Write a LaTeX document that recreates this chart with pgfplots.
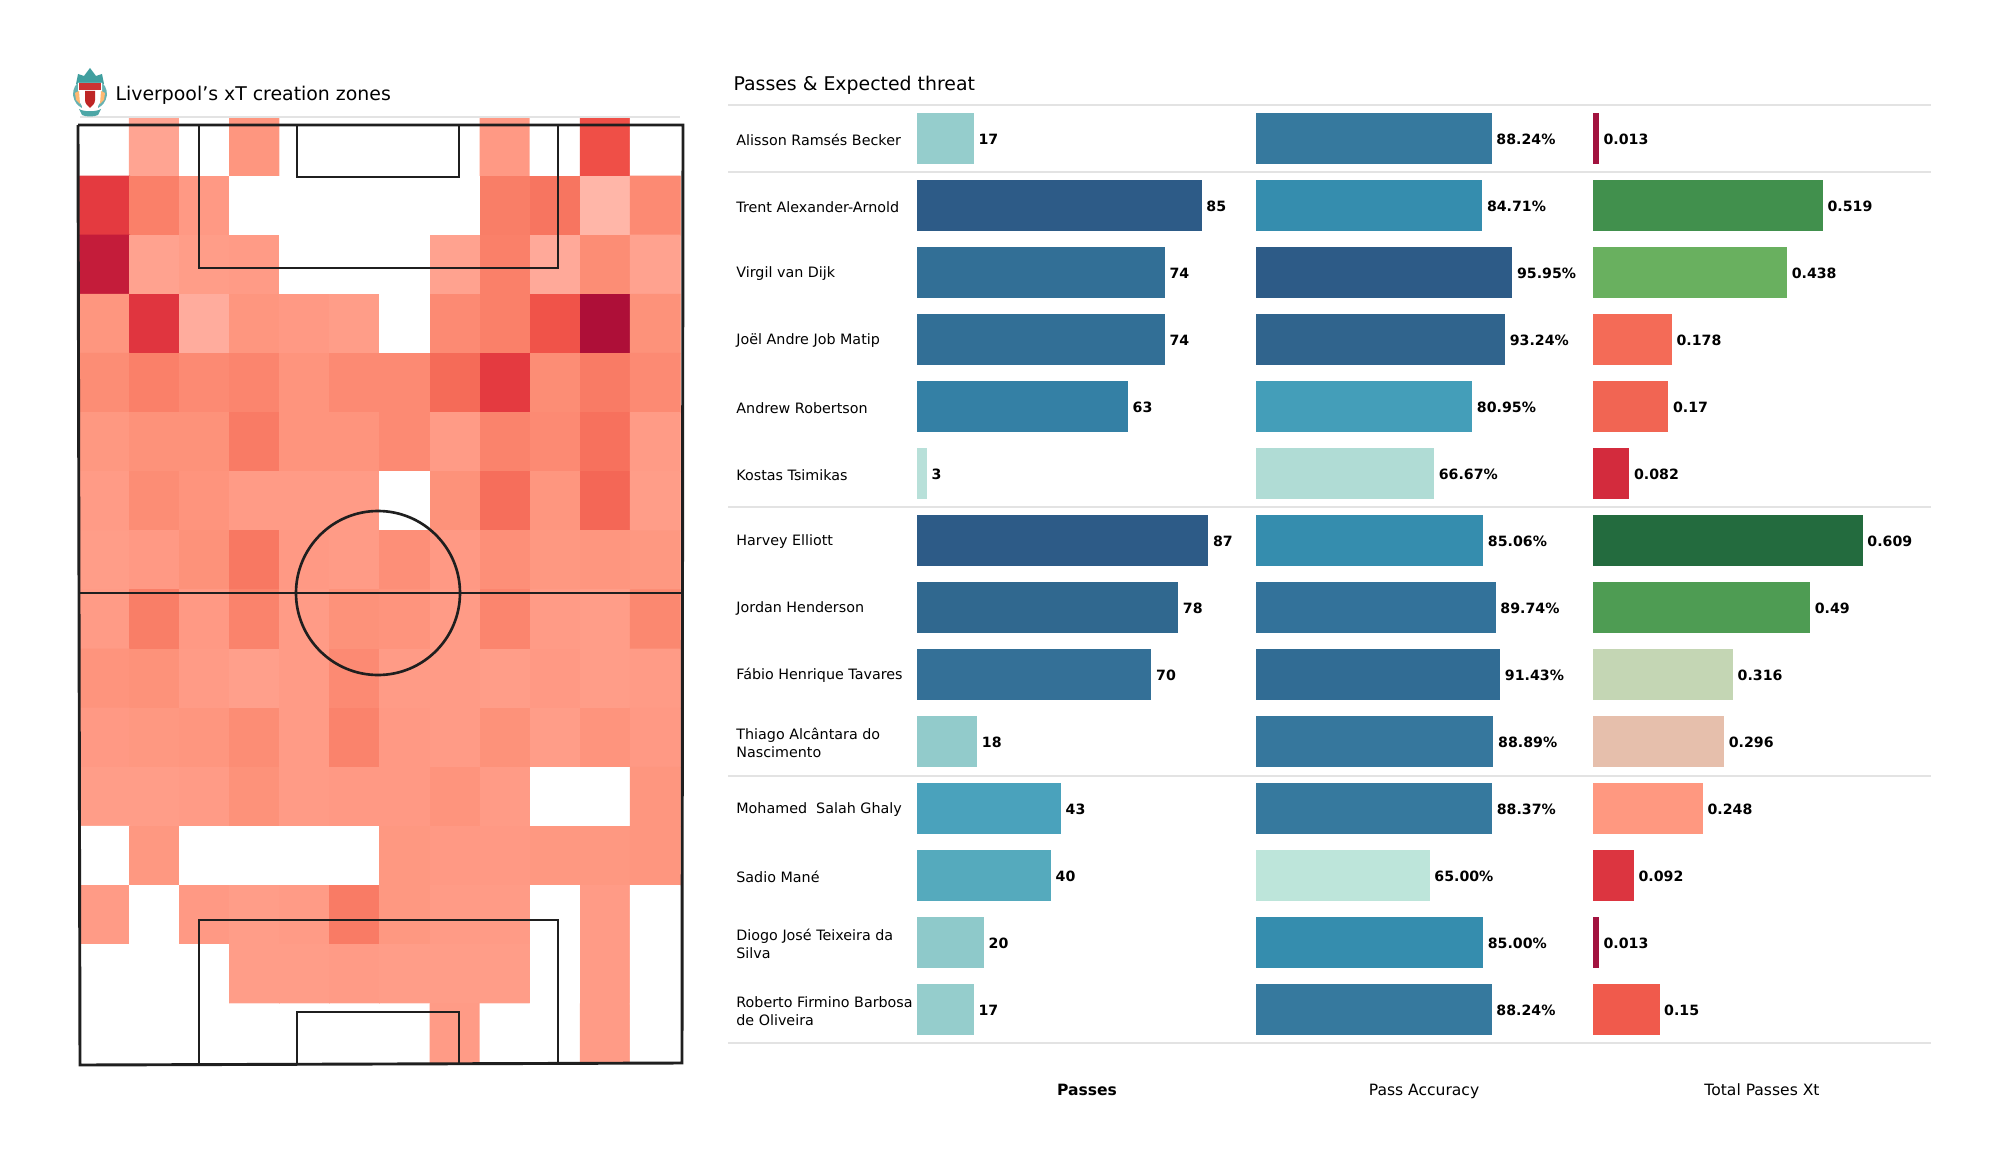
\documentclass[border=0pt]{standalone}
\usepackage{fontspec}
\setmainfont{DejaVu Sans}
\usepackage{pgfplots}
\pgfplotsset{compat=1.18}

% 1 reference pixel = 0.36pt
\newcommand{\W}{720pt}
\newcommand{\Hh}{423pt}
\newcommand{\lab}{\fontsize{5.1}{6.2}\selectfont}

\tikzset{
  pitchline/.style={line width=1.05pt, color=black!88},
  boxline/.style={line width=0.95pt, color=black!88},
  sepline/.style={line width=0.6pt, color=black!11},
}
\pgfplotsset{
  barpanel/.style={
    scale only axis, height=337.68pt, ymin=-0.5, ymax=13.5, y dir=reverse,
    xmin=0, anchor=south west, axis x line=none,
    xbar, bar shift=0pt, bar width=0.76, clip=false,
    point meta=x, nodes near coords,
    every node near coord/.append style={font=\lab\bfseries, anchor=west, inner sep=0pt, xshift=1.5pt, yshift=-0.35pt, black,
      /pgf/number format/assume math mode=true},
  },
}
% panel key, row, value, colour
\newcommand{\pbar}[4]{%
  \definecolor{#1#2}{HTML}{#4}%
  \addplot[draw=none, fill=#1#2] coordinates {(#3,#2)};%
}

\begin{document}
\begin{tikzpicture}
\path[use as bounding box] (0,0) rectangle (\W,\Hh);

% xT heat map, 12 columns by 16 rows, level 0 = no passes
\begin{axis}[
  at={(28.6pt,40.32pt)}, anchor=south west, scale only axis,
  width=216.4pt, height=340.56pt,
  axis lines=none, y dir=reverse,
  xmin=-0.5, xmax=11.5, ymin=-0.5, ymax=15.5,
  point meta min=0, point meta max=100,
  colormap={xt}{
    rgb255(0pt)=(255,255,255); rgb255(1pt)=(255,184,170);
    rgb255(10pt)=(255,169,153); rgb255(20pt)=(255,157,136);
    rgb255(30pt)=(254,148,125); rgb255(40pt)=(251,136,112);
    rgb255(50pt)=(249,123,101); rgb255(60pt)=(245,107,88);
    rgb255(74pt)=(239,79,71); rgb255(85pt)=(227,56,63);
    rgb255(96pt)=(196,28,58); rgb255(100pt)=(174,15,56)
  },
]
\addplot[matrix plot*, mesh/cols=12, point meta=explicit]
  table[row sep=\\, header=false, meta index=0,
        x expr={mod(\coordindex,12)}, y expr={floor((\coordindex+0.5)/12)}] {
0\\14\\0\\28\\0\\0\\0\\0\\24\\0\\74\\0\\
84\\46\\24\\0\\0\\0\\0\\0\\48\\54\\2\\38\\
96\\16\\20\\22\\0\\0\\0\\16\\46\\10\\36\\16\\
28\\86\\8\\28\\24\\20\\0\\38\\46\\72\\100\\32\\
36\\46\\38\\42\\30\\38\\38\\60\\84\\36\\50\\38\\
26\\32\\32\\50\\30\\30\\38\\22\\44\\38\\56\\22\\
22\\36\\30\\22\\22\\22\\0\\32\\58\\28\\62\\20\\
20\\24\\32\\52\\24\\22\\34\\24\\34\\26\\28\\26\\
22\\48\\24\\44\\22\\32\\30\\22\\42\\22\\20\\40\\
30\\32\\22\\18\\22\\38\\22\\22\\20\\24\\20\\22\\
24\\26\\28\\36\\22\\44\\24\\22\\32\\20\\30\\24\\
20\\20\\22\\32\\22\\24\\24\\30\\22\\0\\0\\28\\
0\\26\\0\\0\\0\\0\\26\\24\\24\\26\\26\\28\\
22\\0\\24\\20\\22\\50\\26\\22\\22\\0\\22\\0\\
0\\0\\0\\20\\20\\22\\20\\20\\20\\0\\22\\0\\
0\\0\\0\\0\\0\\0\\0\\22\\0\\0\\22\\0\\
};
\end{axis}

% Passes
\begin{axis}[barpanel, at={(330.1pt,47.52pt)}, width=120.6pt, xmax=100,
  axis y line=left, y axis line style={draw=none}, major tick length=0pt,
  ytick={0,...,13},
  yticklabels={Alisson Ramsés Becker, Trent Alexander-Arnold, Virgil van Dijk,
    Joël Andre Job Matip, Andrew Robertson, Kostas Tsimikas, Harvey Elliott,
    Jordan Henderson, Fábio Henrique Tavares, {Thiago Alcântara do\\Nascimento},
    Mohamed\ \ Salah Ghaly, Sadio Mané, {Diogo José Teixeira da\\Silva},
    {Roberto Firmino Barbosa\\de Oliveira}},
  yticklabel style={font=\fontsize{5.15}{6.5}\selectfont, align=left, anchor=west, inner sep=0pt, xshift=-65.2pt, yshift=-0.45pt},
]
\pbar{a}{0}{17}{95CDCC}
\pbar{a}{1}{85}{2D5B87}
\pbar{a}{2}{74}{326F96}
\pbar{a}{3}{74}{326F96}
\pbar{a}{4}{63}{3480A5}
\pbar{a}{5}{3}{B8E0D9}
\pbar{a}{6}{87}{2D5B87}
\pbar{a}{7}{78}{30688F}
\pbar{a}{8}{70}{347097}
\pbar{a}{9}{18}{92CBCB}
\pbar{a}{10}{43}{4AA2BC}
\pbar{a}{11}{40}{55AABD}
\pbar{a}{12}{20}{8EC9CA}
\pbar{a}{13}{17}{95CDCC}
\end{axis}

% Pass accuracy
\begin{axis}[barpanel, axis y line=none, at={(452.2pt,47.52pt)}, width=96.12pt, xmax=100,
  every node near coord/.append style={
    /pgf/number format/fixed, /pgf/number format/fixed zerofill,
    /pgf/number format/precision=2},
  nodes near coords={\pgfmathprintnumber{\pgfplotspointmeta}\%},
]
\pbar{b}{0}{88.24}{36799E}
\pbar{b}{1}{84.71}{358DAE}
\pbar{b}{2}{95.95}{2D5B87}
\pbar{b}{3}{93.24}{30648D}
\pbar{b}{4}{80.95}{449EB9}
\pbar{b}{5}{66.67}{B0DCD5}
\pbar{b}{6}{85.06}{358DAE}
\pbar{b}{7}{89.74}{33729A}
\pbar{b}{8}{91.43}{316C94}
\pbar{b}{9}{88.89}{36779D}
\pbar{b}{10}{88.37}{36799E}
\pbar{b}{11}{65.00}{BDE5DA}
\pbar{b}{12}{85.00}{358DAE}
\pbar{b}{13}{88.24}{36799E}
\end{axis}

% Total passes xT
\begin{axis}[barpanel, axis y line=none, at={(573.5pt,47.52pt)}, width=111.6pt, xmax=0.7,
  every node near coord/.append style={
    /pgf/number format/fixed, /pgf/number format/precision=3},
]
\pbar{c}{0}{0.013}{A2133F}
\pbar{c}{1}{0.519}{41904D}
\pbar{c}{2}{0.438}{69B05F}
\pbar{c}{3}{0.178}{F46B57}
\pbar{c}{4}{0.17}{F16553}
\pbar{c}{5}{0.082}{D32B3D}
\pbar{c}{6}{0.609}{236B3E}
\pbar{c}{7}{0.49}{4E9C53}
\pbar{c}{8}{0.316}{C4D6B4}
\pbar{c}{9}{0.296}{E6BFAC}
\pbar{c}{10}{0.248}{FF9880}
\pbar{c}{11}{0.092}{DC3540}
\pbar{c}{12}{0.013}{A2133F}
\pbar{c}{13}{0.15}{F05A4C}
\end{axis}

% overlay in reference pixels: pitch markings, separators, titles, crest
\begin{axis}[
  at={(0pt,0pt)}, anchor=south west, scale only axis, width=\W, height=\Hh,
  axis lines=none, xmin=0, xmax=2000, ymin=0, ymax=1175, y dir=reverse, clip=false,
]
\addplot[sepline] coordinates {(80,117) (680,117)};
\addplot[pitchline] coordinates {(78,125) (683,125) (682,1063) (80,1065) (78,125)};
\addplot[pitchline] coordinates {(78,593) (683,593)};
\addplot[boxline] coordinates {(199,125) (199,268) (558,268) (558,125)};
\addplot[boxline] coordinates {(297,125) (297,177) (459,177) (459,125)};
\addplot[boxline] coordinates {(199,1064) (199,920) (558,920) (558,1064)};
\addplot[boxline] coordinates {(297,1064) (297,1012) (459,1012) (459,1064)};
\draw[boxline] (axis cs:378,593) ellipse [x radius=82, y radius=82];

\addplot[sepline] coordinates {(728,105) (1931,105)};
\addplot[sepline] coordinates {(728,172) (1931,172)};
\addplot[sepline] coordinates {(728,507) (1931,507)};
\addplot[sepline] coordinates {(728,776) (1931,776)};
\addplot[sepline] coordinates {(728,1043) (1931,1043)};

% crest
\fill[teal!75!white] (76,84) -- (78,74) -- (84,76) -- (90,68) -- (96,76) -- (102,74) -- (104,84) -- cycle;
\fill[teal!60!white] (73,95) .. controls (73,88) and (76,84) .. (79,82) -- (82,108) .. controls (78,106) and (74,102) .. (73,95) -- cycle;
\fill[teal!60!white] (107,95) .. controls (107,88) and (104,84) .. (101,82) -- (98,108) .. controls (102,106) and (106,102) .. (107,95) -- cycle;
\fill[white] (78,83) -- (102,83) -- (102,96) .. controls (102,104) and (96,108) .. (90,111) .. controls (84,108) and (78,104) .. (78,96) -- cycle;
\fill[red!75!black!80!white] (79,83) -- (101,83) -- (101,90) -- (79,90) -- cycle;
\fill[red!70!black!85!white] (85,91) -- (95,91) -- (95,100) .. controls (95,104) and (92,106) .. (90,108) .. controls (88,106) and (85,104) .. (85,100) -- cycle;
\fill[orange!55!white] (75,93) -- (79,91) -- (80,104) -- (76,100) -- cycle;
\fill[orange!55!white] (105,93) -- (101,91) -- (100,104) -- (104,100) -- cycle;
\fill[teal!70!white] (79,109) .. controls (84,112) and (96,112) .. (101,109) -- (98,115) .. controls (94,117) and (86,117) .. (82,115) -- cycle;

\node[anchor=west, inner sep=0pt, font=\fontsize{6.8}{8}\selectfont] at (axis cs:115,95) {Liverpool's xT creation zones};
\node[anchor=west, inner sep=0pt, font=\fontsize{6.8}{8}\selectfont] at (axis cs:733,85) {Passes \& Expected threat};
\node[anchor=base, inner sep=0pt, font=\fontsize{5.6}{7}\selectfont\bfseries] at (axis cs:1087,1095) {Passes};
\node[anchor=base, inner sep=0pt, font=\fontsize{5.6}{7}\selectfont] at (axis cs:1424,1095) {Pass Accuracy};
\node[anchor=base, inner sep=0pt, font=\fontsize{5.6}{7}\selectfont] at (axis cs:1762,1095) {Total Passes Xt};
\end{axis}
\end{tikzpicture}
\end{document}
